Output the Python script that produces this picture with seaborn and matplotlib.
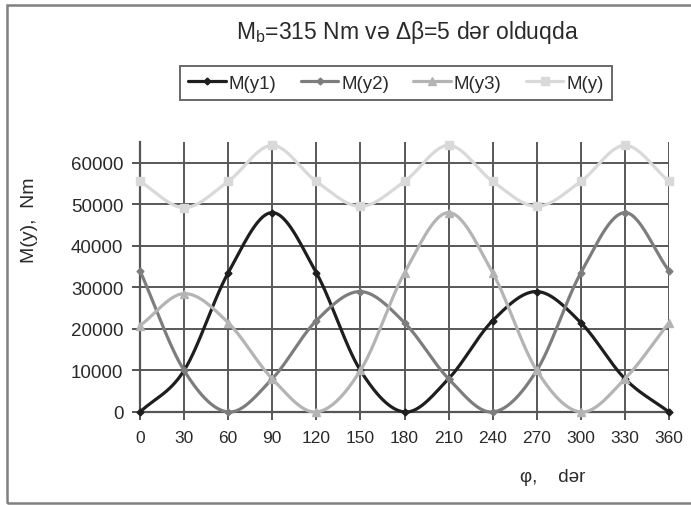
import numpy as np
import pandas as pd
import matplotlib
matplotlib.use("Agg")
import matplotlib.pyplot as plt
from matplotlib.lines import Line2D
from matplotlib.patches import Rectangle
import seaborn as sns

# ---- data ----
phi = [0, 30, 60, 90, 120, 150, 180, 210, 240, 270, 300, 330, 360]
x_ticklabels = [str(v) for v in phi]
y_ticks = [0, 10000, 20000, 30000, 40000, 50000, 60000]
M_y1 = [0, 10000, 33500, 48000, 33500, 10000, 0, 8000, 22000, 29000, 21500, 8000, 0]
M_y2 = [34000, 10000, 0, 8000, 22000, 29000, 21500, 8000, 0, 10000, 33500, 48000, 34000]
M_y3 = [20800, 28500, 21500, 8000, 0, 10000, 33500, 48000, 33500, 10000, 0, 8000, 21500]
M_y = [55500, 49200, 55500, 64200, 55500, 49500, 55500, 64200, 55500, 49500, 55500, 64200, 55500]
series_names = ["M(y1)", "M(y2)", "M(y3)", "M(y)"]
title = "M$_\\mathregular{b}$=315 Nm və Δβ=5 dər olduqda"
ylabel = "M(y),  Nm"
xlabel = "φ,    dər"

series = [M_y1, M_y2, M_y3, M_y]
colors = ["#1e1e1e", "#7d7d7d", "#b4b4b4", "#d9d9d9"]
markers = ["D", "D", "^", "s"]
msizes = [3.5, 3.5, 6, 6]

sns.set_theme(style="white")
plt.rcParams["font.family"] = ["Liberation Sans", "DejaVu Sans"]


def smooth(xs, ys, n=30):
    """Excel-like smoothed line (Catmull-Rom) through the data points, for drawing."""
    xs = np.asarray(xs, float)
    ys = np.asarray(ys, float)
    m = len(xs)
    tx = np.zeros(m)
    ty = np.zeros(m)
    for i in range(m):
        a = max(i - 1, 0)
        b = min(i + 1, m - 1)
        f = 0.5 if (b - a) == 2 else 1.0
        tx[i] = (xs[b] - xs[a]) * f
        ty[i] = (ys[b] - ys[a]) * f
    ox, oy = [], []
    t = np.linspace(0, 1, n, endpoint=False)
    h00 = 2 * t**3 - 3 * t**2 + 1
    h10 = t**3 - 2 * t**2 + t
    h01 = -2 * t**3 + 3 * t**2
    h11 = t**3 - t**2
    for i in range(m - 1):
        ox.append(h00 * xs[i] + h10 * tx[i] + h01 * xs[i + 1] + h11 * tx[i + 1])
        oy.append(h00 * ys[i] + h10 * ty[i] + h01 * ys[i + 1] + h11 * ty[i + 1])
    ox.append([xs[-1]])
    oy.append([ys[-1]])
    return np.concatenate(ox), np.concatenate(oy)


W, H = 691, 506
fig = plt.figure(figsize=(W / 100, H / 100), dpi=100)
ax = fig.add_axes([140 / W, 1 - 413 / H, (669 - 140) / W, (413 - 143) / H])

grid_c = "#585858"
for v in phi:
    ax.axvline(v, color=grid_c, lw=1.4, zorder=1)
for v in y_ticks[1:]:
    ax.axhline(v, color=grid_c, lw=1.4, zorder=1)

frames = []
for name, vals in zip(series_names, series):
    sx, sy = smooth(phi, vals)
    frames.append(pd.DataFrame({"phi": sx, "val": sy, "series": name}))
curves = pd.concat(frames, ignore_index=True)

for k, (name, vals) in enumerate(zip(series_names, series)):
    d = curves[curves["series"] == name]
    sns.lineplot(data=d, x="phi", y="val", ax=ax, color=colors[k], lw=2.3,
                 sort=False, estimator=None, zorder=3 + k * 0.1, clip_on=False)
    ax.plot(phi, vals, ls="none", marker=markers[k], ms=msizes[k], color=colors[k],
            mec=colors[k], zorder=3.05 + k * 0.1, clip_on=False)

ax.set_xlim(0, 360)
ax.set_ylim(0, 65000)
ax.set_xticks(phi)
ax.set_xticklabels(x_ticklabels)
ax.set_yticks(y_ticks)
ax.set_yticklabels([str(v) for v in y_ticks])
ax.set_xlabel("")
ax.set_ylabel("")
for s in ["top", "right"]:
    ax.spines[s].set_visible(False)
for s in ["left", "bottom"]:
    ax.spines[s].set_color("#555555")
    ax.spines[s].set_linewidth(1.6)
ax.tick_params(axis="both", direction="out", length=6, width=1.4, color="#555555",
               labelsize=12.5, labelcolor="#2a2a2a", left=True, bottom=True)
ax.tick_params(axis="x", pad=7)
ax.tick_params(axis="y", pad=6, labelsize=13.5)

fig.text(407 / W, 1 - 33 / H, title, ha="center", va="center", fontsize=16.5, color="#2a2a2a")
fig.text(30 / W, 1 - 220 / H, ylabel, ha="center", va="center", rotation=90,
         fontsize=14, color="#2a2a2a")
fig.text(553 / W, 1 - 478 / H, xlabel, ha="center", va="center", fontsize=13.5, color="#2a2a2a")

handles = [Line2D([0], [0], color=colors[k], lw=2.3, marker=markers[k], ms=msizes[k],
                  mec=colors[k]) for k in range(4)]
leg = fig.legend(handles, series_names, loc="center", bbox_to_anchor=(396 / W, 1 - 84 / H),
                 ncol=4, frameon=True, fancybox=False, fontsize=13.5, handlelength=2.0,
                 handletextpad=0.15, columnspacing=1.3, borderpad=0.45)
leg.get_frame().set_edgecolor("#444444")
leg.get_frame().set_linewidth(1.4)
for t in leg.get_texts():
    t.set_color("#2a2a2a")

fig.patches.append(Rectangle((7 / W, 2 / H), 1.1, 1 - 8 / H, transform=fig.transFigure,
                             fill=False, edgecolor="#808080", lw=1.8))

fig.savefig("out.png", dpi=100, facecolor="white")
